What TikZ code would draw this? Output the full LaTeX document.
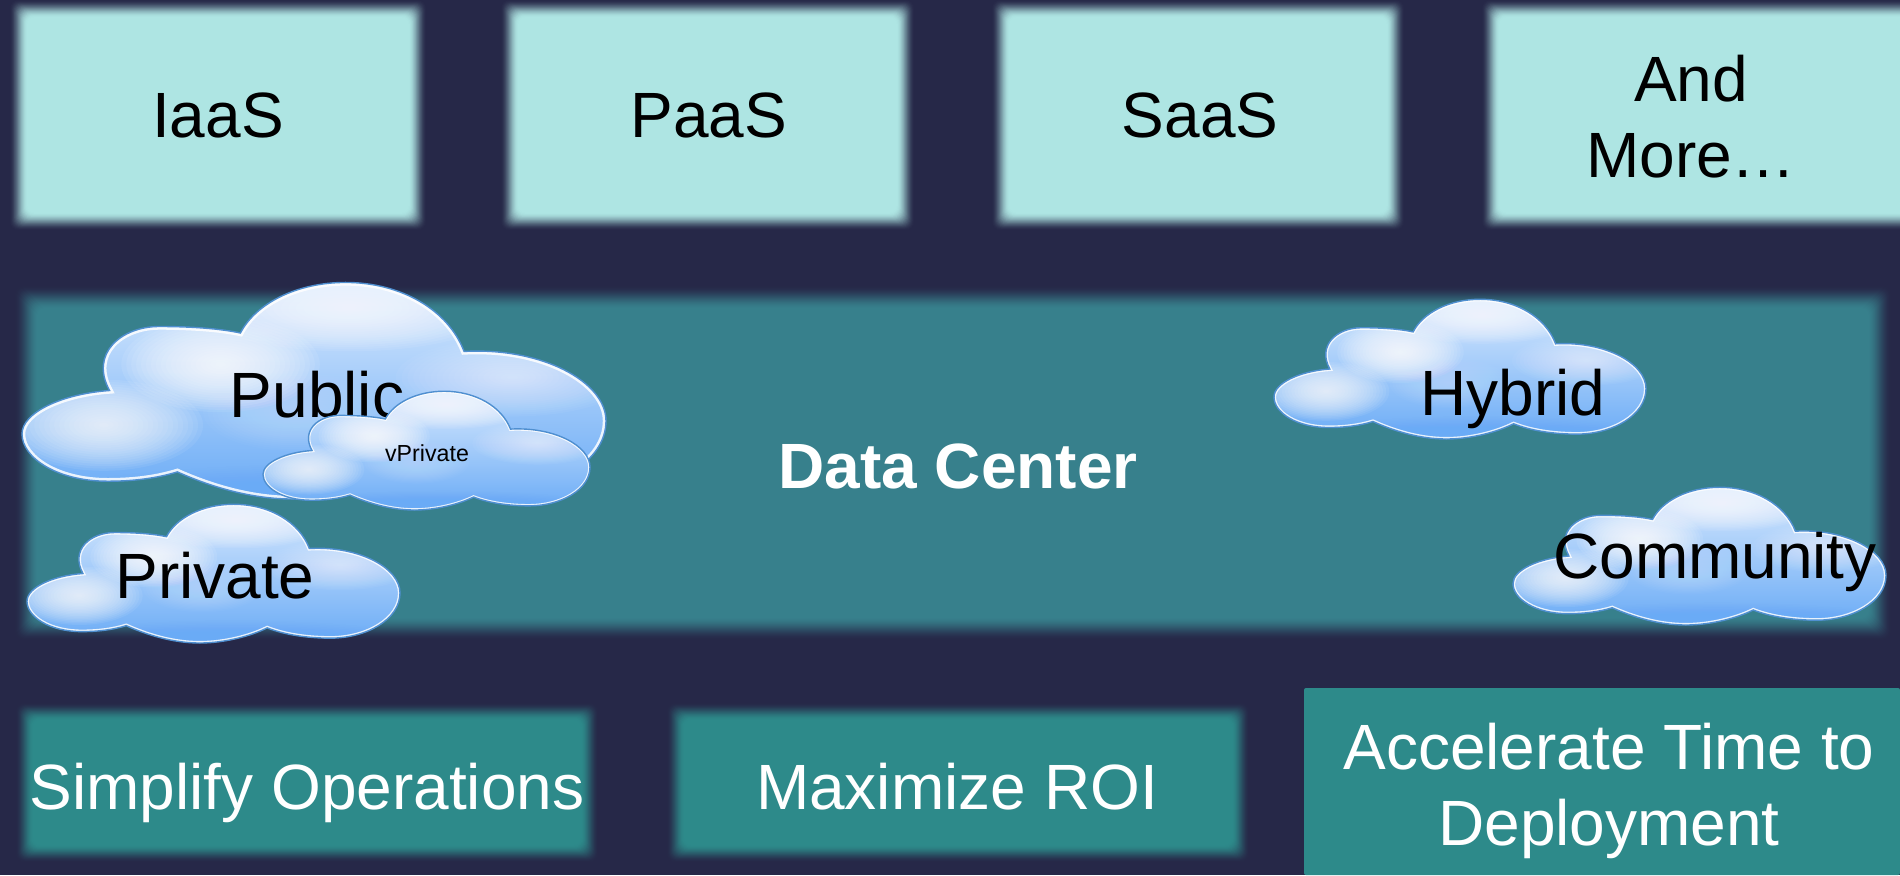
\documentclass[tikz,border=0pt]{standalone}
\usepackage{fontspec}
\setmainfont{Liberation Sans}
\definecolor{bgc}{HTML}{262848}
\definecolor{topc}{HTML}{AEE5E3}
\definecolor{midc}{HTML}{37808C}
\definecolor{lowc}{HTML}{2D8A8A}
\definecolor{cloudedge}{HTML}{4F8FD0}
\tikzset{
  lbl/.style={inner sep=0pt,outer sep=0pt,anchor=base,font=\fontsize{32}{38}\selectfont},
  lblblack/.style={lbl,text=black},
  lblwhite/.style={lbl,text=white},
}
\newcommand{\softrect}[6]{% x1 y1 x2 y2 blur colour
  \foreach \i in {0,...,24}{
    \pgfmathsetmacro{\t}{\i/24}
    \pgfmathsetmacro{\e}{#5*(0.5-\t)}
    \pgfmathsetmacro{\p}{100*\t*\t*(3-2*\t)}
    \colorlet{tmpc}{#6!\p!bgc}
    \fill[tmpc,rounded corners=4pt] ({#1-\e},{#2-\e}) rectangle ({#3+\e},{#4+\e});
  }
}
\def\cloudpath{(0,.70) .. controls (0,.60) and (.07,.515) .. (.150,.500)
  .. controls (.115,.33) and (.17,.205) .. (.235,.205)
  .. controls (.29,.205) and (.34,.215) .. (.374,.235)
  .. controls (.40,.10) and (.47,.002) .. (.554,.002)
  .. controls (.65,.002) and (.73,.13) .. (.757,.32)
  .. controls (.89,.30) and (1,.46) .. (1,.64)
  .. controls (1,.83) and (.91,.965) .. (.814,.965)
  .. controls (.75,.965) and (.69,.94) .. (.644,.891)
  .. controls (.60,.95) and (.53,1) .. (.463,1)
  .. controls (.39,1) and (.32,.94) .. (.266,.875)
  .. controls (.23,.905) and (.19,.918) .. (.147,.918)
  .. controls (.06,.918) and (0,.81) .. (0,.70) -- cycle}
\newcommand{\glow}[6]{% cx cy rx ry colour opacity
  \foreach \k in {1,...,20}{
    \fill[#5,opacity=#6] (#1,#2) ellipse [x radius={#3*\k/20},y radius={#4*\k/20}];
  }
}
\newcommand{\cloud}[4]{% x y w h in px
  \pgfmathsetlengthmacro{\cw}{#3*0.5pt}
  \pgfmathsetlengthmacro{\ch}{-#4*0.5pt}
  \pgfmathsetlengthmacro{\rim}{#3*0.5pt*0.011}
  \begin{scope}[shift={(#1,#2)},x=\cw,y=\ch]
    \shade[top color=cloudtop,middle color=cloudmid,bottom color=cloudlow] \cloudpath;
    \begin{scope}
      \clip \cloudpath;
      \glow{.14}{.66}{.17}{.21}{white}{.07}
      \glow{.34}{.38}{.17}{.22}{white}{.085}
      \glow{.56}{.12}{.26}{.20}{white}{.07}
      \glow{.84}{.44}{.20}{.18}{white}{.04}
      \glow{.47}{.60}{.16}{.18}{white}{.02}
      \glow{.55}{1.02}{.55}{.18}{cloudlow}{.025}
      \draw[white,opacity=.85,line width=\rim] \cloudpath;
    \end{scope}
    \draw[cloudedge,line width=.7pt] \cloudpath;
  \end{scope}
}
\definecolor{cloudtop}{HTML}{D8E9FD}
\definecolor{cloudmid}{HTML}{BCDAFB}
\definecolor{cloudlow}{HTML}{6AABF6}
\begin{document}
\begin{tikzpicture}[x=0.5pt,y=-0.5pt]
\useasboundingbox (0,0) rectangle (1900,875);
\fill[bgc] (0,0) rectangle (1900,875);
% top row
\softrect{18}{8}{418}{222}{18}{topc}
\softrect{509}{8}{906}{222}{18}{topc}
\softrect{1000}{8}{1396}{222}{18}{topc}
\softrect{1490}{8}{1925}{222}{18}{topc}
\node[lblblack] (iaas) at (218,137) {IaaS};
\node[lblblack] (paas) at (709,137) {PaaS};
\node[lblblack] (saas) at (1200,137) {SaaS};
\node[lblblack,anchor=center,align=center] (more) at (1691,117) {And\\More…};
% middle band
\softrect{26}{297}{1880}{629}{24}{midc}
\node[lbl,text=white,font=\fontsize{32}{38}\selectfont\bfseries] (dc) at (958,488) {Data Center};
% bottom row
\softrect{24}{711}{590}{854}{18}{lowc}
\softrect{675}{711}{1241}{854}{18}{lowc}
\fill[lowc,rounded corners=1pt] (1304,688) rectangle (1900,875);
\node[lblwhite] (simp) at (307,809) {Simplify Operations};
\node[lblwhite] (roi) at (957,809) {Maximize ROI};
\node[lblwhite,anchor=center,align=center] (acc) at (1609,791) {Accelerate Time to\\Deployment};
% clouds
\cloud{22}{282}{584}{217}
\node[lblblack] (public) at (317,417) {Public};
\cloud{263}{391}{327}{119}
\node[lbl,text=black,font=\fontsize{11.6}{14}\selectfont] (vpriv) at (427,461) {vPrivate};
\cloud{27}{504}{373}{139}
\node[lblblack] (private) at (215,598) {Private};
\cloud{1274}{299}{372}{140}
\node[lblblack] (hybrid) at (1513,415) {Hybrid};
\cloud{1513}{487}{373}{138}
\node[lblblack] (comm) at (1715,578) {Community};
\end{tikzpicture}
\end{document}
